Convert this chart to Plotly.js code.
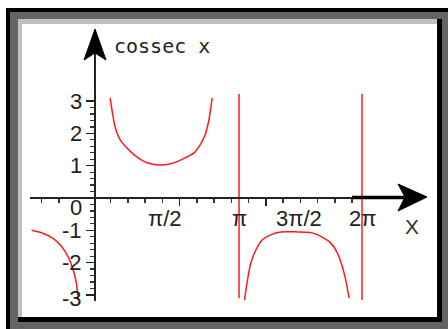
<!DOCTYPE html>
<html>
<head>
<meta charset="utf-8">
<script src="https://cdn.plot.ly/plotly-3.0.1.min.js"></script>
<style>html,body{margin:0;padding:0;background:#fff;}#plot{width:448px;height:329px;}</style>
</head>
<body>
<div id="plot"></div>
<script>
// ---- data (x in radians, y = cossec x) ----
const leftX  = [-1.51, -1.23, -0.99, -0.79, -0.64, -0.52, -0.45, -0.40];
const leftY  = [-1.00, -1.10, -1.26, -1.51, -1.82, -2.23, -2.59, -3.16];
const branch1X = [0.36, 0.42, 0.48, 0.60, 0.76, 0.95, 1.14, 1.35, 1.57, 1.80, 2.00, 2.20, 2.38, 2.52, 2.62, 2.71, 2.79];
const branch1Y = [3.10, 2.60, 2.20, 1.80, 1.55, 1.32, 1.15, 1.05, 1.02, 1.06, 1.15, 1.28, 1.42, 1.68, 1.95, 2.40, 3.10];
const branch2X = [3.56, 3.63, 3.71, 3.83, 3.98, 4.18, 4.42, 4.82, 5.17, 5.41, 5.61, 5.77, 5.89, 5.97, 6.05];
const branch2Y = [-3.16, -2.54, -2.01, -1.61, -1.30, -1.14, -1.05, -1.05, -1.08, -1.21, -1.39, -1.70, -2.13, -2.54, -3.10];
const asymX      = [3.43, 6.357];
const asymTop    = [3.22, 3.22];
const asymBottom = [-3.10, -3.16];

// ---- ticks and tick labels ----
const xMajorTicks = [2.015, 4.068];
const xMinorTicks = [-1.269, -0.859, 0.373, 0.784, 1.194, 1.605, 2.426, 2.836, 3.247, 3.657, 4.478, 4.889, 5.299, 5.710, 6.120];
const xTickLabels = ['π/2', 'π', '3π/2', '2π'];
const xLabelPos   = [1.67, 3.44, 4.86, 6.36];
const yMajorTicks = [-3, -2, -1, 0, 1, 2, 3];
const yTickLabels = ['3', '2', '1', '0', '-1', '-2', '-3'];
const yLabelPos   = [3.0, 2.0, 1.0, -0.30, -1.02, -2.0, -3.10];
const yMinorTicks = [];
for (let i = -14; i <= 14; i++) { if (i % 5 !== 0) yMinorTicks.push(i * 0.2); }

// ---- geometry helpers (pixel -> paper) ----
const W = 448, H = 329;
const PX = p => p / W;
const PY = p => 1 - p / H;
const X0 = 95, KX = 42, Y0 = 198, KY = 32.3; // pixel of origin and px per unit

const red = '#ff1a1a';
const traces = [
  {x: leftX, y: leftY, mode: 'lines', line: {color: red, width: 1.5, shape: 'spline', smoothing: 0.8}, hoverinfo: 'skip'},
  {x: branch1X, y: branch1Y, mode: 'lines', line: {color: red, width: 1.5, shape: 'spline', smoothing: 0.8}, hoverinfo: 'skip'},
  {x: branch2X, y: branch2Y, mode: 'lines', line: {color: red, width: 1.5, shape: 'spline', smoothing: 0.8}, hoverinfo: 'skip'}
];
asymX.forEach((v, i) => traces.push({x: [v, v], y: [asymTop[i], asymBottom[i]], mode: 'lines', line: {color: red, width: 1.5}, hoverinfo: 'skip'}));

function rect(x0, y0, x1, y1, c) {
  return {type: 'rect', xref: 'paper', yref: 'paper', x0: PX(x0), x1: PX(x1), y0: PY(y1), y1: PY(y0), fillcolor: c, line: {width: 0}, layer: 'below'};
}
function path(pts) {
  return 'M ' + pts.map(p => PX(p[0]) + ',' + PY(p[1])).join(' L ') + ' Z';
}
const shapes = [
  rect(6, 8, 448, 329, '#000000'),
  rect(10, 12, 448, 329, '#646464'),
  rect(18, 19, 442, 322, '#000000'),
  rect(18, 19, 437, 317, '#c0c0c0'),
  rect(22, 24, 437, 317, '#ffffff'),
  {type: 'path', xref: 'paper', yref: 'paper', path: path([[95, 29], [106, 60], [95, 53], [84, 60]]), fillcolor: '#000', line: {color: '#000', width: 1}, layer: 'above'},
  {type: 'path', xref: 'paper', yref: 'paper', path: path([[427, 197], [398, 184], [405, 197], [398, 211]]), fillcolor: '#000', line: {color: '#000', width: 1}, layer: 'above'},
  {type: 'line', xref: 'paper', yref: 'paper', x0: PX(352), x1: PX(404), y0: PY(197.5), y1: PY(197.5), line: {color: '#000', width: 3.5}, layer: 'above'}
];

const lblFont = {family: 'Liberation Sans, Arial, sans-serif', size: 22, color: '#222'};
const annotations = [
  {text: 'cossec x', xref: 'paper', yref: 'paper', x: PX(112), y: PY(46), xanchor: 'left', yanchor: 'middle', showarrow: false,
   font: {family: 'DejaVu Sans Mono, monospace', size: 20, color: '#222'}},
  {text: 'X', xref: 'paper', yref: 'paper', x: PX(411.5), y: PY(226.5), xanchor: 'center', yanchor: 'middle', showarrow: false,
   font: {family: 'Liberation Sans, Arial, sans-serif', size: 21, color: '#333'}}
];
yTickLabels.forEach((t, i) => annotations.push({text: t, xref: 'paper', yref: 'paper', x: PX(84), y: PY(Y0 - yLabelPos[i] * KY),
  xanchor: 'right', yanchor: 'middle', showarrow: false, font: lblFont}));
xTickLabels.forEach((t, i) => annotations.push({text: t, xref: 'paper', yref: 'paper', x: PX(X0 + xLabelPos[i] * KX), y: PY(218),
  xanchor: 'center', yanchor: 'middle', showarrow: false, font: lblFont}));

const layout = {
  width: W, height: H,
  margin: {l: 0, r: 0, t: 0, b: 0, pad: 0},
  paper_bgcolor: '#ffffff', plot_bgcolor: 'rgba(0,0,0,0)',
  showlegend: false,
  xaxis: {
    domain: [PX(30), PX(420)], range: [(30 - X0) / KX, (420 - X0) / KX],
    anchor: 'free', position: PY(Y0), side: 'bottom',
    showline: true, linecolor: '#222', linewidth: 2,
    ticks: 'outside', tickmode: 'array', tickvals: xMajorTicks, ticklen: 7, tickwidth: 1.5, tickcolor: '#222',
    showticklabels: false, showgrid: false, zeroline: false, fixedrange: true,
    minor: {tickmode: 'array', tickvals: xMinorTicks, ticks: 'outside', ticklen: 4, tickwidth: 1.5, tickcolor: '#333', showgrid: false}
  },
  yaxis: {
    domain: [PY(301), PY(32)], range: [(Y0 - 301) / KY, (Y0 - 32) / KY],
    anchor: 'free', position: PX(X0), side: 'left',
    showline: true, linecolor: '#222', linewidth: 2,
    ticks: 'outside', tickmode: 'array', tickvals: yMajorTicks, ticklen: 8, tickwidth: 1.5, tickcolor: '#222',
    showticklabels: false, showgrid: false, zeroline: false, fixedrange: true,
    minor: {tickmode: 'array', tickvals: yMinorTicks, ticks: 'outside', ticklen: 4, tickwidth: 1.2, tickcolor: '#333', showgrid: false}
  },
  shapes: shapes,
  annotations: annotations
};

Plotly.newPlot('plot', traces, layout, {displayModeBar: false, staticPlot: true});
</script>
</body>
</html>
